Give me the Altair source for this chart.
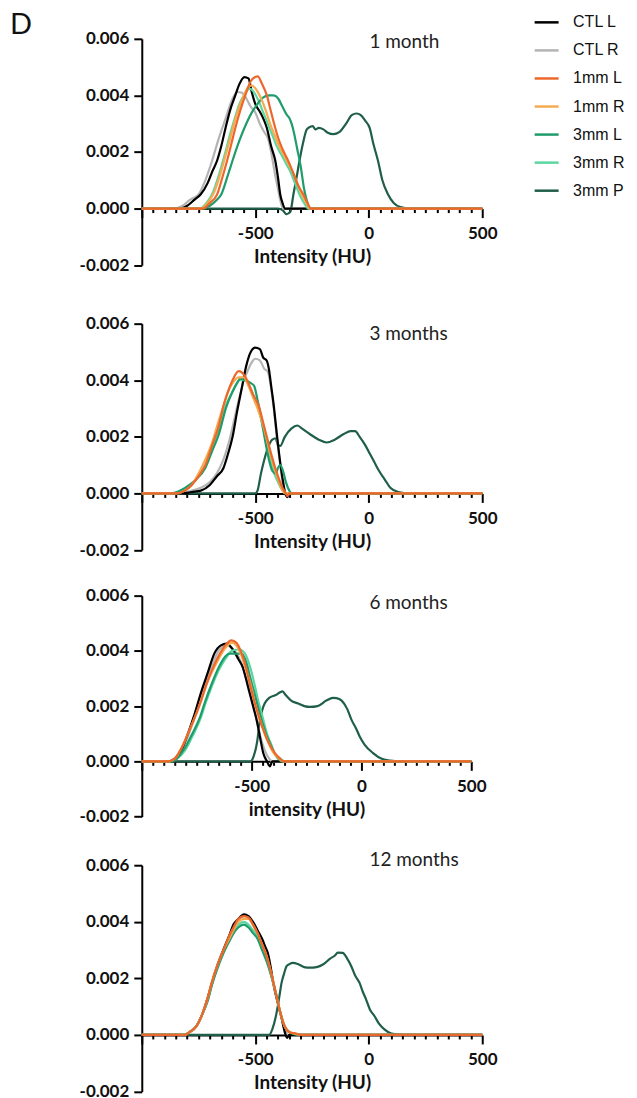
import altair as alt
import pandas as pd

SERIES = ["CTL L", "CTL R", "1mm L", "1mm R", "3mm L", "3mm R", "3mm P"]
COLORS = ["#000000", "#b4b4b4", "#ec672c", "#f5ab50", "#1f9c6b", "#5cd6a0", "#1f5e4a"]
DRAW_ORDER = ["3mm P", "CTL R", "CTL L", "3mm R", "3mm L", "1mm R", "1mm L"]
PANEL_TITLES = ["1 month", "3 months", "6 months", "12 months"]
AXIS_TITLES = ["Intensity (HU)", "Intensity (HU)", "intensity (HU)", "Intensity (HU)"]
X_TICKS = list(range(-1000, 501, 50))
Y_TICKS = [-0.002, 0.0, 0.002, 0.004, 0.006]

# ---------------- 1 month ----------------
m1_ctl_l_x = [-830, -800, -770, -741, -710, -690, -668, -650, -631, -610, -588, -570, -548, -530, -515, -500, -478, -460, -449, -430, -412, -400, -390, -380, -368]
m1_ctl_l_y = [0, 0.0001, 0.0003, 0.0005, 0.0009, 0.0013, 0.0017, 0.0022, 0.00285, 0.0035, 0.0040, 0.0044, 0.00465, 0.0046, 0.0041, 0.0037, 0.0034, 0.0031, 0.00285, 0.0022, 0.0017, 0.0011, 0.0005, 0.0002, 0]
m1_ctl_r_x = [-860, -820, -790, -750, -720, -690, -660, -630, -605, -580, -560, -540, -520, -500, -480, -460, -445, -430, -415, -400, -390, -378]
m1_ctl_r_y = [0, 0.0001, 0.0003, 0.0005, 0.0010, 0.0017, 0.0025, 0.0032, 0.0038, 0.00412, 0.0041, 0.0039, 0.0036, 0.0034, 0.0030, 0.0027, 0.0025, 0.0020, 0.0013, 0.0007, 0.0003, 0]
m1_1mm_l_x = [-730, -700, -668, -645, -624, -605, -588, -565, -544, -520, -500, -489, -470, -449, -430, -412, -395, -380, -368, -350, -330, -310, -288, -270, -255]
m1_1mm_l_y = [0, 0.0002, 0.0005, 0.0011, 0.0017, 0.0023, 0.00285, 0.0035, 0.0040, 0.0045, 0.00465, 0.00467, 0.0044, 0.0040, 0.0034, 0.00285, 0.0024, 0.0021, 0.0019, 0.0016, 0.0012, 0.0008, 0.0005, 0.0002, 0]
m1_1mm_r_x = [-740, -710, -680, -655, -630, -610, -590, -570, -550, -530, -515, -495, -475, -455, -435, -415, -395, -375, -355, -335, -315, -295, -275, -260]
m1_1mm_r_y = [0, 0.0002, 0.0006, 0.0012, 0.0019, 0.0025, 0.0031, 0.0036, 0.0040, 0.0043, 0.00435, 0.0042, 0.0039, 0.0035, 0.0030, 0.0026, 0.0022, 0.0019, 0.0016, 0.0013, 0.0009, 0.0005, 0.0002, 0]
m1_3mm_l_x = [-740, -700, -670, -650, -620, -600, -570, -545, -515, -490, -470, -440, -420, -400, -380, -360, -350, -340, -330, -315, -300, -285, -270, -258]
m1_3mm_l_y = [0, 0.0001, 0.0003, 0.0005, 0.0012, 0.0017, 0.0024, 0.0029, 0.0034, 0.0037, 0.0039, 0.0040, 0.0040, 0.0039, 0.0036, 0.0033, 0.0032, 0.0030, 0.0027, 0.0021, 0.0015, 0.0007, 0.0002, 0]
m1_3mm_r_x = [-745, -715, -685, -660, -635, -612, -590, -570, -550, -535, -522, -505, -485, -465, -445, -425, -405, -385, -365, -345, -325, -305, -285, -265]
m1_3mm_r_y = [0, 0.0002, 0.0006, 0.0012, 0.0019, 0.0026, 0.0032, 0.0037, 0.0040, 0.0042, 0.00423, 0.0041, 0.0038, 0.0034, 0.0030, 0.0026, 0.0022, 0.0019, 0.0016, 0.0013, 0.0009, 0.0005, 0.0002, 0]
m1_3mm_p_x = [-400, -380, -362, -345, -332, -318, -305, -290, -273, -255, -247, -235, -220, -200, -180, -156, -130, -100, -75, -54, -35, -15, 4, 20, 41, 60, 85, 110, 140, 180]
m1_3mm_p_y = [0, -0.00005, -0.0002, -0.0001, 0.0005, 0.0011, 0.0017, 0.0023, 0.0028, 0.0029, 0.00292, 0.0028, 0.00285, 0.0028, 0.00268, 0.00263, 0.0027, 0.0030, 0.0033, 0.00336, 0.0033, 0.0031, 0.00285, 0.0023, 0.00168, 0.0010, 0.0005, 0.0002, 0.00005, 0]

# ---------------- 3 months ----------------
m3_ctl_l_x = [-820, -780, -740, -700, -670, -640, -620, -600, -580, -560, -540, -520, -500, -480, -465, -450, -440, -430, -420, -405, -395, -385, -375, -368, -358, -350]
m3_ctl_l_y = [0, 0.00005, 0.0001, 0.0003, 0.0006, 0.0009, 0.0014, 0.0020, 0.0029, 0.0037, 0.0045, 0.0050, 0.00515, 0.0051, 0.0048, 0.0047, 0.0044, 0.0038, 0.0032, 0.0021, 0.0014, 0.0008, 0.0003, 0, -0.00013, 0]
m3_ctl_r_x = [-830, -780, -740, -700, -670, -640, -610, -590, -570, -550, -530, -510, -500, -480, -460, -445, -430, -420, -405, -390, -378, -368]
m3_ctl_r_y = [0, 0.0001, 0.0002, 0.0004, 0.0007, 0.0012, 0.0020, 0.0027, 0.0034, 0.0040, 0.0044, 0.0047, 0.00476, 0.0047, 0.0044, 0.0043, 0.0037, 0.0031, 0.0020, 0.0010, 0.0003, 0]
m3_1mm_l_x = [-850, -810, -780, -750, -720, -690, -660, -640, -620, -600, -573, -550, -530, -510, -485, -465, -449, -430, -412, -395, -380, -365, -358, -350]
m3_1mm_l_y = [0, 0.0001, 0.0003, 0.0006, 0.0010, 0.0017, 0.0024, 0.0031, 0.0036, 0.0040, 0.00432, 0.0042, 0.0039, 0.0035, 0.0031, 0.0025, 0.0020, 0.0014, 0.0009, 0.0005, 0.0002, 0, -0.0001, 0]
m3_1mm_r_x = [-850, -810, -780, -750, -720, -690, -660, -640, -620, -600, -573, -550, -530, -510, -485, -465, -449, -430, -412, -395, -380, -365]
m3_1mm_r_y = [0, 0.0001, 0.0003, 0.0007, 0.0012, 0.0018, 0.0026, 0.0031, 0.0036, 0.0039, 0.0041, 0.0041, 0.0038, 0.0034, 0.0029, 0.0024, 0.0019, 0.0013, 0.0008, 0.0004, 0.0001, 0]
m3_3mm_l_x = [-870, -830, -790, -760, -720, -690, -660, -630, -600, -580, -566, -545, -520, -505, -490, -470, -455, -440, -425, -410, -400, -390, -378, -365, -350, -340]
m3_3mm_l_y = [0, 0.0001, 0.0003, 0.0005, 0.0009, 0.0015, 0.0021, 0.0030, 0.0036, 0.0039, 0.00406, 0.0040, 0.0039, 0.0038, 0.0033, 0.0025, 0.0018, 0.0012, 0.0008, 0.0007, 0.0009, 0.0010, 0.0008, 0.0004, 0.0001, 0]
m3_3mm_r_x = [-850, -800, -760, -720, -690, -660, -630, -600, -570, -545, -520, -500, -480, -460, -440, -420, -400, -380, -365]
m3_3mm_r_y = [0, 0.0002, 0.0005, 0.0010, 0.0016, 0.0023, 0.0031, 0.0036, 0.0040, 0.0040, 0.0037, 0.0033, 0.0028, 0.0021, 0.0014, 0.0008, 0.0004, 0.0001, 0]
m3_3mm_p_x = [-500, -490, -475, -460, -445, -425, -410, -400, -390, -370, -340, -315, -295, -260, -220, -186, -150, -110, -80, -60, -40, -15, 5, 25, 45, 70, 95, 130, 180]
m3_3mm_p_y = [0, 0.0001, 0.0007, 0.0012, 0.0016, 0.0019, 0.00195, 0.0017, 0.00168, 0.0020, 0.0023, 0.0024, 0.0023, 0.0021, 0.0019, 0.0018, 0.0019, 0.0021, 0.0022, 0.0022, 0.0020, 0.0017, 0.0014, 0.0011, 0.0008, 0.0005, 0.0002, 0.00005, 0]

# ---------------- 6 months ----------------
m6_ctl_l_x = [-880, -850, -820, -790, -760, -730, -700, -670, -640, -614, -590, -560, -540, -526, -510, -490, -477, -460, -447, -430, -417, -405]
m6_ctl_l_y = [0, 0.0001, 0.0004, 0.0010, 0.0017, 0.0025, 0.0032, 0.0039, 0.0042, 0.00426, 0.0041, 0.0037, 0.0034, 0.0030, 0.0025, 0.0019, 0.0015, 0.0008, 0.0003, 0, -0.00018, 0]
m6_ctl_r_x = [-880, -850, -820, -790, -760, -730, -700, -670, -640, -610, -590, -560, -540, -520, -500, -480, -460, -440, -420, -405]
m6_ctl_r_y = [0, 0.0001, 0.0004, 0.0009, 0.0016, 0.0024, 0.0031, 0.0037, 0.0041, 0.0042, 0.0041, 0.0038, 0.0034, 0.0029, 0.0023, 0.0016, 0.0009, 0.0004, 0.0001, 0]
m6_1mm_l_x = [-880, -850, -818, -790, -758, -730, -705, -670, -644, -620, -591, -570, -545, -525, -508, -485, -462, -430, -394, -370, -355]
m6_1mm_l_y = [0, 0.0001, 0.0005, 0.0010, 0.0016, 0.0022, 0.0028, 0.0035, 0.0039, 0.0042, 0.00438, 0.0043, 0.0039, 0.0034, 0.0028, 0.0021, 0.0015, 0.0008, 0.0003, 0.0001, 0]
m6_1mm_r_x = [-880, -850, -818, -790, -758, -730, -705, -670, -644, -620, -590, -570, -545, -525, -505, -485, -462, -430, -400, -375, -355]
m6_1mm_r_y = [0, 0.0001, 0.0005, 0.0010, 0.0016, 0.0022, 0.0028, 0.0034, 0.0038, 0.0041, 0.0043, 0.0042, 0.0038, 0.0033, 0.0028, 0.0021, 0.0015, 0.0008, 0.0003, 0.0001, 0]
m6_3mm_l_x = [-870, -840, -803, -770, -735, -710, -682, -650, -620, -599, -570, -545, -525, -505, -485, -455, -430, -402, -380, -360]
m6_3mm_l_y = [0, 0.0001, 0.0005, 0.0010, 0.0016, 0.0022, 0.0028, 0.0034, 0.0038, 0.0039, 0.0039, 0.0039, 0.0036, 0.0030, 0.0024, 0.0015, 0.0009, 0.0004, 0.0001, 0]
m6_3mm_r_x = [-870, -840, -803, -770, -735, -710, -682, -650, -620, -590, -555, -530, -510, -490, -470, -450, -430, -410, -390, -370, -350]
m6_3mm_r_y = [0, 0.0001, 0.0004, 0.0009, 0.0015, 0.0021, 0.0027, 0.0033, 0.0037, 0.0040, 0.00405, 0.0039, 0.0035, 0.0029, 0.0022, 0.0016, 0.0010, 0.0006, 0.0002, 0.0001, 0]
m6_3mm_p_x = [-505, -490, -475, -462, -450, -440, -420, -390, -370, -359, -345, -320, -290, -260, -235, -200, -160, -130, -114, -90, -65, -45, -25, -8, 15, 53, 90, 130, 175]
m6_3mm_p_y = [0, 0.0002, 0.0007, 0.0015, 0.0019, 0.0021, 0.0023, 0.0024, 0.0025, 0.00253, 0.0024, 0.0022, 0.0021, 0.0020, 0.00197, 0.0020, 0.0022, 0.0023, 0.00229, 0.0022, 0.0019, 0.0015, 0.0012, 0.0009, 0.0006, 0.0003, 0.0001, 0.00003, 0]

# ---------------- 12 months ----------------
m12_ctl_l_x = [-810, -790, -760, -735, -710, -691, -665, -640, -615, -596, -575, -550, -530, -510, -490, -470, -455, -445, -430, -421, -400, -384, -370, -360, -350]
m12_ctl_l_y = [0, 0.0001, 0.0003, 0.0007, 0.0013, 0.00185, 0.0025, 0.00302, 0.0035, 0.0039, 0.0041, 0.00426, 0.0042, 0.0040, 0.0037, 0.0034, 0.0031, 0.0029, 0.0023, 0.00185, 0.0011, 0.0006, 0.0001, -0.0001, 0]
m12_ctl_r_x = [-810, -790, -760, -735, -710, -690, -665, -640, -615, -595, -575, -550, -530, -510, -490, -470, -450, -430, -410, -390, -370, -355]
m12_ctl_r_y = [0, 0.0001, 0.0003, 0.0007, 0.0013, 0.0018, 0.0025, 0.0030, 0.0035, 0.0038, 0.0041, 0.0042, 0.0042, 0.0039, 0.0036, 0.0033, 0.0029, 0.0022, 0.0015, 0.0008, 0.0002, 0]
m12_1mm_l_x = [-810, -790, -760, -735, -710, -690, -665, -640, -615, -596, -575, -550, -530, -510, -490, -470, -450, -430, -410, -390, -370, -350, -320, -300]
m12_1mm_l_y = [0, 0.0001, 0.0003, 0.0007, 0.0013, 0.0019, 0.0025, 0.0030, 0.0035, 0.0038, 0.0041, 0.0042, 0.00415, 0.0039, 0.0036, 0.0032, 0.0028, 0.0022, 0.0015, 0.0008, 0.0003, 0.0001, 0.00005, 0]
m12_1mm_r_x = [-810, -790, -760, -735, -710, -690, -665, -640, -615, -596, -575, -550, -530, -510, -490, -470, -450, -430, -410, -390, -370, -350, -320, -300]
m12_1mm_r_y = [0, 0.0001, 0.0003, 0.0007, 0.0013, 0.0019, 0.0025, 0.0030, 0.0034, 0.0037, 0.0040, 0.0041, 0.0041, 0.0039, 0.0036, 0.0032, 0.0028, 0.0022, 0.0015, 0.0008, 0.0003, 0.0001, 0.00004, 0]
m12_3mm_l_x = [-820, -790, -760, -735, -710, -690, -665, -640, -615, -595, -575, -550, -530, -510, -490, -470, -450, -430, -410, -390, -370, -350, -330, -300]
m12_3mm_l_y = [0, 0.0001, 0.0003, 0.0007, 0.0012, 0.0018, 0.0024, 0.0029, 0.0033, 0.0036, 0.0038, 0.0039, 0.0038, 0.0036, 0.0034, 0.0030, 0.0026, 0.0021, 0.0015, 0.0008, 0.0003, 0.0001, 0.00003, 0]
m12_3mm_r_x = [-815, -790, -760, -735, -710, -690, -665, -640, -615, -595, -575, -550, -530, -510, -490, -470, -450, -430, -410, -390, -370, -350, -325, -300]
m12_3mm_r_y = [0, 0.0001, 0.0003, 0.0007, 0.0012, 0.0018, 0.0024, 0.0029, 0.0034, 0.0037, 0.0039, 0.0040, 0.0039, 0.0037, 0.0035, 0.0031, 0.0027, 0.0021, 0.0015, 0.0008, 0.0003, 0.0001, 0.00004, 0]
m12_3mm_p_x = [-440, -425, -409, -395, -384, -372, -362, -350, -336, -310, -285, -260, -230, -200, -170, -150, -136, -115, -95, -77, -60, -41, -25, -12, 5, 25, 45, 69, 100, 140, 170]
m12_3mm_p_y = [0, 0.0002, 0.00067, 0.0013, 0.00185, 0.0022, 0.00243, 0.0025, 0.00255, 0.0025, 0.0024, 0.00238, 0.0024, 0.0025, 0.0027, 0.0028, 0.00291, 0.0029, 0.0027, 0.00243, 0.0021, 0.00185, 0.0015, 0.00126, 0.0009, 0.00067, 0.0004, 0.0002, 0.00005, 0.00001, 0]

PANELS = [
    {"CTL L": (m1_ctl_l_x, m1_ctl_l_y), "CTL R": (m1_ctl_r_x, m1_ctl_r_y),
     "1mm L": (m1_1mm_l_x, m1_1mm_l_y), "1mm R": (m1_1mm_r_x, m1_1mm_r_y),
     "3mm L": (m1_3mm_l_x, m1_3mm_l_y), "3mm R": (m1_3mm_r_x, m1_3mm_r_y),
     "3mm P": (m1_3mm_p_x, m1_3mm_p_y)},
    {"CTL L": (m3_ctl_l_x, m3_ctl_l_y), "CTL R": (m3_ctl_r_x, m3_ctl_r_y),
     "1mm L": (m3_1mm_l_x, m3_1mm_l_y), "1mm R": (m3_1mm_r_x, m3_1mm_r_y),
     "3mm L": (m3_3mm_l_x, m3_3mm_l_y), "3mm R": (m3_3mm_r_x, m3_3mm_r_y),
     "3mm P": (m3_3mm_p_x, m3_3mm_p_y)},
    {"CTL L": (m6_ctl_l_x, m6_ctl_l_y), "CTL R": (m6_ctl_r_x, m6_ctl_r_y),
     "1mm L": (m6_1mm_l_x, m6_1mm_l_y), "1mm R": (m6_1mm_r_x, m6_1mm_r_y),
     "3mm L": (m6_3mm_l_x, m6_3mm_l_y), "3mm R": (m6_3mm_r_x, m6_3mm_r_y),
     "3mm P": (m6_3mm_p_x, m6_3mm_p_y)},
    {"CTL L": (m12_ctl_l_x, m12_ctl_l_y), "CTL R": (m12_ctl_r_x, m12_ctl_r_y),
     "1mm L": (m12_1mm_l_x, m12_1mm_l_y), "1mm R": (m12_1mm_r_x, m12_1mm_r_y),
     "3mm L": (m12_3mm_l_x, m12_3mm_l_y), "3mm R": (m12_3mm_r_x, m12_3mm_r_y),
     "3mm P": (m12_3mm_p_x, m12_3mm_p_y)},
]

WIDTHS = [341, 341, 330, 341]
HEIGHTS = [226.7, 226.7, 221.3, 226.7]
TITLE_Y = [3.4, 10, 7.6, -5]
FONT = "Lato"


def frame(data):
    rows = []
    for s in DRAW_ORDER:
        xs, ys = data[s]
        xs = [-1000] + list(xs) + [500]
        ys = [0.0] + list(ys) + [0.0]
        for x, y in zip(xs, ys):
            rows.append({"series": s, "x": x, "y": y})
    return pd.DataFrame(rows)


def panel(i):
    w, h = WIDTHS[i], HEIGHTS[i]
    df = frame(PANELS[i])
    xaxis = alt.Axis(
        values=X_TICKS,
        labelExpr="(datum.value % 500 === 0 && datum.value > -1000) ? toString(datum.value) : ''",
        tickSize={"condition": {"test": "datum.value % 500 === 0", "value": 9}, "value": 4},
        tickWidth=2, tickColor="#000", domainWidth=2, domainColor="#000",
        labelFont=FONT, labelFontSize=17, labelFontWeight="bold", labelColor="#111",
        labelPadding=8, labelFlush=False, labelOverlap=False,
        title=AXIS_TITLES[i], titleFont=FONT, titleFontSize=19, titleFontWeight="bold",
        titleColor="#111", titlePadding=6, offset=-h * 0.25, grid=False,
    )
    yaxis = alt.Axis(
        values=Y_TICKS,
        labelExpr="datum.value < 0 ? '-' + format(-datum.value, '.3f') : format(datum.value, '.3f')",
        tickSize=8, tickWidth=2, tickColor="#000", domainWidth=2, domainColor="#000",
        labelFont=FONT, labelFontSize=17, labelFontWeight="bold", labelColor="#111",
        labelPadding=5, title=None, grid=False,
    )
    color = alt.Color(
        "series:N",
        scale=alt.Scale(domain=SERIES, range=COLORS),
        legend=alt.Legend(
            title=None, orient="none", legendX=392, legendY=-30,
            symbolType="stroke", symbolSize=576, symbolStrokeWidth=2.5,
            labelFont="Liberation Sans", labelFontSize=16, labelColor="#111",
            labelOffset=13, rowPadding=6.1, padding=0,
        ),
    )
    lines = alt.Chart(df).mark_line(strokeWidth=2.2, interpolate="monotone").encode(
        x=alt.X("x:Q", scale=alt.Scale(domain=[-1000, 500], nice=False, zero=False), axis=xaxis),
        y=alt.Y("y:Q", scale=alt.Scale(domain=[-0.002, 0.006], nice=False), axis=yaxis),
        color=color,
    )
    label = alt.Chart(pd.DataFrame({"t": [PANEL_TITLES[i]]})).mark_text(
        align="left", baseline="middle", font=FONT, fontSize=19, color="#222"
    ).encode(x=alt.value(228), y=alt.value(TITLE_Y[i]), text="t:N")
    layers = [lines, label]
    if i == 0:
        letter = alt.Chart(pd.DataFrame({"t": ["D"]})).mark_text(
            align="left", baseline="alphabetic", font=FONT, fontSize=29, color="#111"
        ).encode(x=alt.value(-132), y=alt.value(-5), text="t:N")
        layers.append(letter)
    return alt.layer(*layers).properties(width=w, height=h)


top = alt.vconcat(panel(0), panel(1), spacing=58.3, bounds="flush")
bottom = alt.vconcat(panel(2), panel(3), spacing=48, bounds="flush")
chart = alt.vconcat(top, bottom, spacing=28.7, bounds="full").properties(
    padding={"left": 2, "top": 0, "right": 4, "bottom": 4},
    background="white",
).configure_view(stroke=None)

chart.save("out.html", embed_options={"renderer": "svg", "actions": False})
